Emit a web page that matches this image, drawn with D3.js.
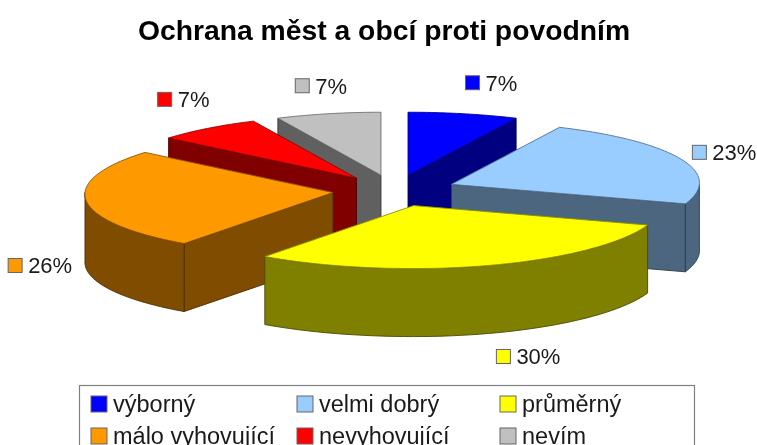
<!DOCTYPE html>
<html><head><meta charset="utf-8">
<script src="https://cdn.jsdelivr.net/npm/d3@7"></script>
<style>html,body{margin:0;background:#fff;overflow:hidden}svg{display:block;filter:blur(.45px)}text{font-family:"Liberation Sans",Arial,sans-serif;fill:#1a1a1a}</style>
</head><body><svg id="c" width="757" height="445"></svg>
<script>
const titleText = "Ochrana měst a obcí proti povodním";
const categories = ["výborný","velmi dobrý","průměrný","málo vyhovující","nevyhovující","nevím"];
const values = [7,23,30,26,7,7];
const colors = ["#0000FF","#99CCFF","#FFFF00","#FF9900","#FF0000","#C0C0C0"];
const sideColors = ["#000080","#4D6680","#808000","#804D00","#800000","#606060"];
const labelNudgeX = [2,11,8,-78,-50,-33];
const labelNudgeY = [-31,-7,91,65,-29,-28];

const svg = d3.select("#c");
const cx=394.5, cy=190.6, rx=248, ry=63, depth=68, explode=0.25, shear=6.5;
const x = d3.scaleLinear().domain([-1,1]).range([cx-rx,cx+rx]);
const y = d3.scaleLinear().domain([-1,1]).range([cy-ry,cy+ry]);
const fmt = d3.format(".0%"), total = d3.sum(values);
const arcs = d3.pie().sort(null)(values).map((d,i)=>{
  const mid=(d.startAngle+d.endAngle)/2;
  return {...d,i,mid,dx:x(Math.sin(mid)*explode)-cx,dy:y(-Math.cos(mid)*explode)-cy};
});
const pt=(d,a,r=1,h=0)=>[x(Math.sin(a)*r)+d.dx+shear*r*Math.cos(a)*Math.abs(Math.sin(a)), y(-Math.cos(a)*r)+d.dy+h];
const line=d3.line();
const rim=(d,a0,a1,h)=>d3.range(0,49).map(k=>pt(d,a0+(a1-a0)*k/48,1,h));
const edge=(c)=>d3.color(c).darker(1.6).formatHex();

const order=arcs.slice().sort((p,q)=>(-Math.cos(p.mid))-(-Math.cos(q.mid)));
const g=svg.append("g");
order.forEach(d=>{
  const side=sideColors[d.i], sw=.9;
  const wall=(a)=>line([pt(d,0,0),pt(d,a),pt(d,a,1,depth),pt(d,0,0,depth)])+"Z";
  if(-Math.cos(d.startAngle-Math.PI/2)>0.001) g.append("path").attr("d",wall(d.startAngle)).attr("fill",side).attr("stroke",edge(side)).attr("stroke-width",sw);
  if(-Math.cos(d.endAngle+Math.PI/2)>0.001) g.append("path").attr("d",wall(d.endAngle)).attr("fill",side).attr("stroke",edge(side)).attr("stroke-width",sw);
  const a0=Math.max(d.startAngle,Math.PI/2), a1=Math.min(d.endAngle,Math.PI*1.5);
  if(a1>a0){
    const top=rim(d,a0,a1,0), bot=rim(d,a0,a1,depth).reverse();
    g.append("path").attr("d",line(top.concat(bot))+"Z").attr("fill",side).attr("stroke",edge(side)).attr("stroke-width",sw);
  }
  const face=[pt(d,0,0)].concat(rim(d,d.startAngle,d.endAngle,0));
  g.append("path").attr("d",line(face)+"Z").attr("fill",colors[d.i]).attr("stroke",edge(colors[d.i])).attr("stroke-width",sw);
});

svg.append("text").attr("x",384).attr("y",39.5).attr("text-anchor","middle").attr("font-size",28.3).attr("font-weight","bold").style("fill","#000").text(titleText);

arcs.forEach(d=>{
  const p=pt(d,d.mid), lx=p[0]+labelNudgeX[d.i], ly=p[1]+labelNudgeY[d.i];
  svg.append("rect").attr("x",lx).attr("y",ly-7).attr("width",14).attr("height",14).attr("fill",colors[d.i]).attr("stroke","#666").attr("stroke-width",1);
  svg.append("text").attr("x",lx+20).attr("y",ly+8).attr("font-size",22).text(fmt(d.value/total));
});

const lx=d3.scaleOrdinal().domain([0,1,2]).range([91,297,500]);
const ly=d3.scalePoint().domain([0,1]).range([404,436]);
svg.append("rect").attr("x",79.5).attr("y",385.5).attr("width",615).attr("height",70).attr("fill","#fff").attr("stroke","#808080").attr("stroke-width",1.2);
categories.forEach((c,i)=>{
  const gx=lx(i%3), gy=ly(Math.floor(i/3));
  svg.append("rect").attr("x",gx).attr("y",gy-8).attr("width",16).attr("height",16).attr("fill",colors[i]).attr("stroke","#666");
  svg.append("text").attr("x",gx+22).attr("y",gy+8).attr("font-size",23.5).text(c);
});
</script></body></html>
